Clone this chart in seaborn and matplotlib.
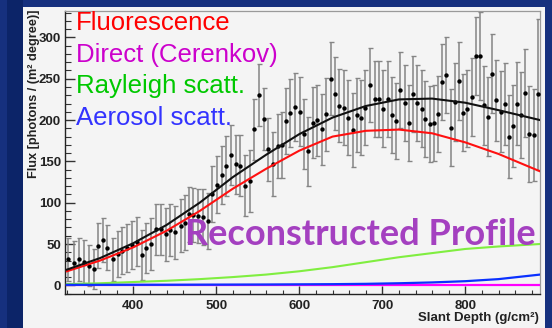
import matplotlib
matplotlib.use("Agg")
import matplotlib.pyplot as plt
from matplotlib.patches import Rectangle
from matplotlib.ticker import MultipleLocator
import pandas as pd
import seaborn as sns

# ---------------- data ----------------
depth = [321.7, 328.6, 334.6, 340.6, 346.6, 352.7, 357.8, 363.9, 368.7, 375.2,
         381.0, 386.7, 392.7, 398.4, 404.2, 409.9, 415.3, 421.3, 427.3, 432.8,
         438.8, 444.8, 450.8, 456.9, 462.3, 467.7, 472.3, 478.3, 484.3, 489.6,
         495.2, 500.8, 506.5, 512.0, 517.7, 523.4, 528.9, 534.6, 540.2, 545.8,
         551.4, 557.1, 562.6, 568.3, 574.0, 579.5, 584.3, 589.2, 594.8, 600.5,
         605.7, 610.8, 616.1, 621.7, 627.0, 632.2, 637.8, 643.0, 648.2, 653.9,
         659.0, 664.3, 669.5, 674.7, 679.5, 685.4, 690.6, 695.7, 700.8, 706.3,
         711.4, 716.5, 721.6, 727.1, 731.6, 737.0, 742.2, 747.5, 752.0, 757.2,
         762.3, 767.3, 772.2, 777.3, 782.4, 787.6, 792.4, 797.5, 802.4, 807.5,
         812.3, 817.5, 823.1, 827.6, 832.5, 837.3, 842.6, 847.6, 852.4, 857.2,
         862.0, 867.1, 872.5, 877.3, 882.5, 887.2]
flux = [31.8, 27.4, 31.8, 28.6, 23.7, 20.0, 48.0, 54.8, 45.5, 31.8,
        38, 42, 45, 49, 53, 36.7, 45, 50, 68, 68,
        62, 67, 64, 72, 76, 86, 85, 84, 83, 77.5,
        110.5, 122, 134, 144.5, 158, 146.5, 144.5, 120.6, 126.3, 188.8,
        230.4, 201.3, 164.6, 146.5, 168.6, 169.8, 199, 209, 215.5, 210.2,
        183.2, 162, 197, 200, 189, 207, 250, 232, 217.5, 215,
        203, 188, 206, 203, 215, 242.5, 225, 225, 214, 225,
        206, 199, 236.5, 221, 196, 232, 221, 214, 201, 195,
        196.5, 207, 246.5, 255, 191, 222, 247.5, 209, 214, 228,
        277.6, 277.6, 217.7, 204, 256, 224, 210, 219.5, 180, 193,
        220, 206, 233, 183, 182, 231]
flux_err = [26, 26, 26, 26, 25, 24, 27, 27, 27, 26,
            28, 28, 29, 29, 30, 30, 30, 31, 31, 31,
            32, 32, 32, 32, 33, 33, 33, 33, 34, 34,
            34, 35, 35, 36, 36, 36, 37, 37, 37, 37,
            38, 38, 38, 39, 39, 40, 40, 41, 41, 42,
            42, 42, 43, 43, 43, 44, 44, 44, 44, 45,
            45, 45, 45, 45, 45, 45, 46, 46, 46, 46,
            46, 46, 46, 46, 46, 46, 46, 46, 46, 46,
            46, 46, 46, 46, 46, 47, 47, 47, 47, 47,
            47, 53, 48, 48, 48, 49, 49, 50, 50, 50,
            50, 52, 53, 58, 56, 91]

curve_depth = [320, 360, 400, 440, 480, 520, 560, 600, 640, 680, 720, 760, 800, 840, 890]
total_fit = [19, 33, 51, 73, 100, 131, 158, 183, 203, 217, 225, 226, 221, 212, 200]
fluorescence = [17, 30, 46, 66, 90, 117, 141, 163, 180, 187, 188.5, 184, 173, 159, 138]
direct = [0.2, 0.2, 0.2, 0.2, 0.2, 0.2, 0.2, 0.2, 0.2, 0.2, 0.2, 0.2, 0.2, 0.2, 0.2]
rayleigh = [1.5, 2.5, 4, 5.5, 7.5, 10, 13, 17, 22, 28, 34, 39, 44, 47, 50]
aerosol = [0.6, 0.6, 0.7, 0.7, 0.8, 0.9, 1.0, 1.2, 1.4, 1.8, 2.5, 3.5, 5.0, 7.5, 13]

x_ticks = [400, 500, 600, 700, 800]
y_ticks = [0, 50, 100, 150, 200, 250, 300]

legend_labels = ["Fluorescence", "Direct (Cerenkov)", "Rayleigh scatt.", "Aerosol scatt."]
legend_colors = ["#ff0000", "#cc00cc", "#00c800", "#3333ff"]

# ---------------- figure ----------------
plt.rcParams["font.family"] = ["Liberation Sans", "DejaVu Sans"]

W, H = 552, 328
fig = plt.figure(figsize=(W / 100, H / 100), dpi=100, facecolor="#16307e")
fig.patches.append(Rectangle((7 / W, 0), 15.5 / W, 1, transform=fig.transFigure,
                             facecolor="#0c2468", edgecolor="none", zorder=-2))
fig.patches.append(Rectangle((22.5 / W, 0), (545 - 22.5) / W, 1 - 7 / H,
                             transform=fig.transFigure, facecolor="#f4f4f4",
                             edgecolor="none", zorder=-1))

ax = fig.add_axes([65 / W, 1 - 294 / H, (540 - 65) / W, (294 - 11) / H])
ax.set_facecolor("#f4f4f4")

ax.errorbar(depth, flux, yerr=flux_err, fmt="none", ecolor="#858585",
            elinewidth=1.1, capsize=1.8, capthick=1.0, zorder=2)
sns.scatterplot(x=depth, y=flux, color="black", s=10, linewidth=0, ax=ax, zorder=3)

curves = pd.DataFrame({"depth": curve_depth, "total": total_fit, "fluo": fluorescence,
                       "direct": direct, "rayleigh": rayleigh, "aerosol": aerosol})
sns.lineplot(data=curves, x="depth", y="direct", color="#ff00ff", lw=1.6, ax=ax, zorder=4)
sns.lineplot(data=curves, x="depth", y="rayleigh", color="#80ee40", lw=1.5, ax=ax, zorder=4)
sns.lineplot(data=curves, x="depth", y="aerosol", color="#0a30ff", lw=1.6, ax=ax, zorder=4)
sns.lineplot(data=curves, x="depth", y="fluo", color="#ff1010", lw=1.5, ax=ax, zorder=5)
sns.lineplot(data=curves, x="depth", y="total", color="#111111", lw=1.5, ax=ax, zorder=6)

ax.set_xlim(317.7, 890)
ax.set_ylim(-10.5, 332)
ax.set_xticks(x_ticks)
ax.set_xticklabels([str(v) for v in x_ticks], fontweight="bold", fontsize=9.5, color="#222222")
ax.set_yticks(y_ticks)
ax.set_yticklabels([str(v) for v in y_ticks], fontweight="bold", fontsize=9.5, color="#222222")
ax.xaxis.set_minor_locator(MultipleLocator(20))
ax.yaxis.set_minor_locator(MultipleLocator(10))
ax.tick_params(which="both", direction="in", top=False, right=False, color="#333333")
ax.tick_params(axis="x", which="major", length=5.5, width=1.0, pad=4)
ax.tick_params(axis="y", which="major", length=7.5, width=1.0, pad=3)
ax.tick_params(axis="x", which="minor", length=3, width=0.8)
ax.tick_params(axis="y", which="minor", length=4, width=0.8)
ax.set_xlabel("")
ax.set_ylabel("")
for side in ["left", "bottom"]:
    ax.spines[side].set_color("#222222")
    ax.spines[side].set_linewidth(1.0)
for side in ["top", "right"]:
    ax.spines[side].set_color("#9a9a9a")
    ax.spines[side].set_linewidth(0.9)

fig.text(34 / W, 1 - 9 / H, "Flux [photons / (m² degree)]", rotation=90,
         va="top", ha="center", fontsize=9.2, fontweight="bold", color="#222222")
fig.text(538.5 / W, 1 - 318 / H, "Slant Depth (g/cm²)", ha="right", va="center",
         fontsize=9.5, fontweight="bold", color="#222222")

baselines = [30, 61.7, 93.3, 125]
for lab, col, b in zip(legend_labels, legend_colors, baselines):
    fig.text(76 / W, 1 - b / H, lab, color=col, fontsize=18.5, ha="left", va="baseline")

fig.text(185 / W, 1 - 245 / H, "Reconstructed Profile", color="#a440c0",
         fontsize=26, fontweight="bold", family=["Lato", "DejaVu Sans"],
         ha="left", va="baseline", zorder=10)

fig.savefig("out.png", dpi=100, facecolor=fig.get_facecolor())
